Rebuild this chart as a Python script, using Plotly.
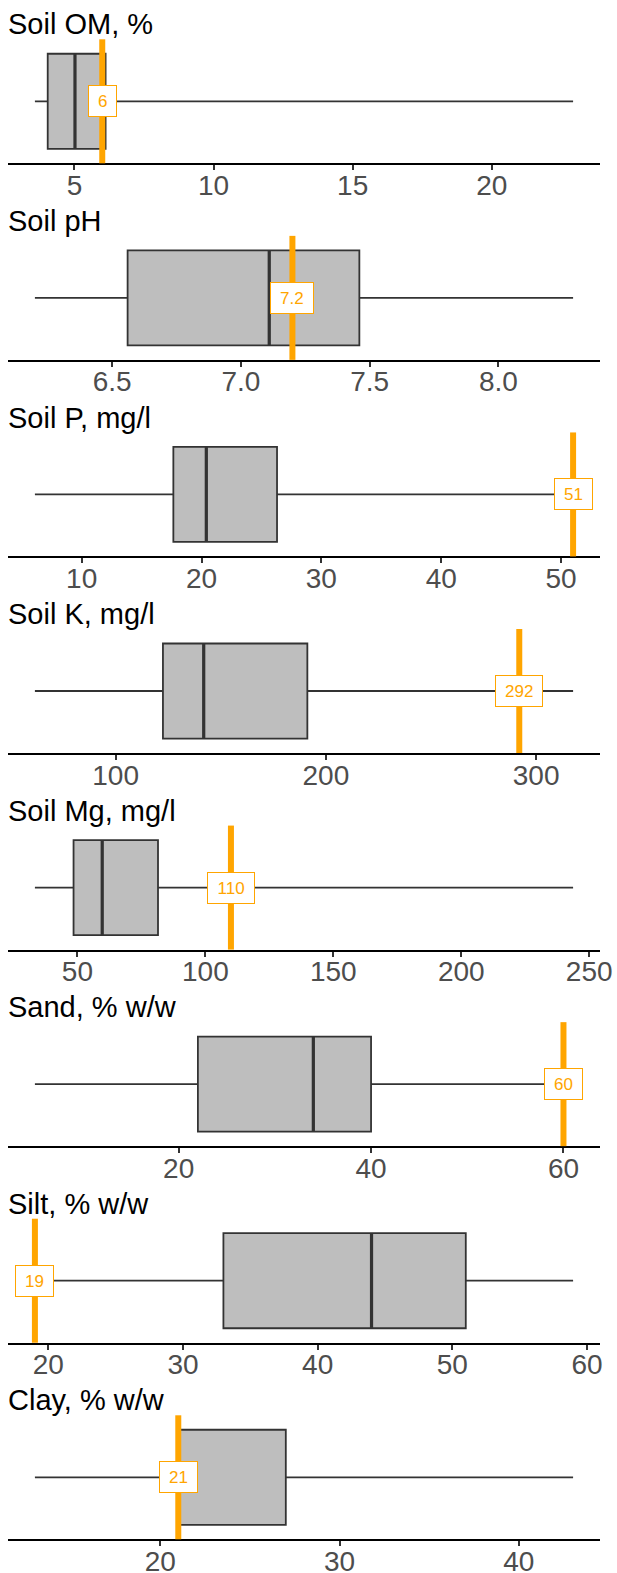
import plotly.graph_objects as go
from plotly.subplots import make_subplots

# ---- data ----
titles = ["Soil OM, %", "Soil pH", "Soil P, mg/l", "Soil K, mg/l",
          "Soil Mg, mg/l", "Sand, % w/w", "Silt, % w/w", "Clay, % w/w"]
whisker_lo = [3.58, 6.20, 6.1, 61.6, 33.4, 5.06, 19.5, 13.0]
q1_vals = [4.04, 6.56, 17.65, 122.5, 48.5, 22.0, 33.0, 21.0]
medians = [5.02, 7.11, 20.4, 141.9, 59.7, 34.0, 44.0, 21.05]
q3_vals = [6.12, 7.46, 26.3, 191.2, 81.5, 40.0, 51.0, 27.0]
whisker_hi = [22.92, 8.29, 50.5, 317.6, 243.7, 61.0, 58.97, 43.03]
site_vals = [6.0, 7.2, 51, 292, 110, 60, 19, 21]
site_labels = ["6", "7.2", "51", "292", "110", "60", "19", "21"]
tick_steps = [5, 0.5, 10, 100, 50, 20, 10, 10]
tick_formats = ["d", ".1f", "d", "d", "d", "d", "d", "d"]

# ---- layout constants (page pixels) ----
W, H = 617, 1573
PERIOD = 196.57
TOP0, BOT0 = 39.3, 163.3
TITLE_C0 = 24.5
BOX_W = 0.92
FONT = "Liberation Sans, Arial, sans-serif"
LABEL_FS = 17


def text_w(s, fs):
    return sum((0.278 if ch == "." else 0.556) * fs for ch in s)


n = len(titles)
fig = make_subplots(rows=n, cols=1)

for i in range(n):
    r = i + 1
    fig.add_trace(go.Box(
        q1=[q1_vals[i]], median=[medians[i]], q3=[q3_vals[i]],
        lowerfence=[whisker_lo[i]], upperfence=[whisker_hi[i]],
        y=[0], orientation="h", width=BOX_W,
        fillcolor="#BEBEBE", line=dict(color="#333333", width=1.8),
        whiskerwidth=0, boxpoints=False, hoverinfo="skip", showlegend=False,
    ), row=r, col=1)
    fig.add_trace(go.Scatter(
        x=[medians[i], medians[i]], y=[-BOX_W / 2, BOX_W / 2], mode="lines",
        line=dict(color="#333333", width=3.2), hoverinfo="skip", showlegend=False,
    ), row=r, col=1)

    lo = min(whisker_lo[i], site_vals[i])
    hi = max(whisker_hi[i], site_vals[i])
    pad = 0.05 * (hi - lo)
    top_px = TOP0 + i * PERIOD
    bot_px = BOT0 + i * PERIOD
    ax = "xaxis" if i == 0 else f"xaxis{r}"
    ay = "yaxis" if i == 0 else f"yaxis{r}"
    fig.layout[ax].update(
        range=[lo - pad, hi + pad], dtick=tick_steps[i], tick0=0,
        tickformat=tick_formats[i], showgrid=False, zeroline=False,
        showline=True, linecolor="black", linewidth=2,
        ticks="outside", ticklen=5, tickwidth=1.5, tickcolor="#333333",
        tickfont=dict(family=FONT, size=28, color="#4D4D4D"),
        ticklabelstandoff=-9, automargin=False,
        fixedrange=True,
    )
    fig.layout[ay].update(
        domain=[1 - bot_px / H, 1 - top_px / H], range=[-0.6, 0.6],
        visible=False, automargin=False, fixedrange=True,
    )
    xref = "x" if i == 0 else f"x{r}"
    yref = "y" if i == 0 else f"y{r}"
    fig.add_shape(type="line", xref=xref, yref=f"{yref} domain",
                  x0=site_vals[i], x1=site_vals[i], y0=0, y1=1,
                  line=dict(color="#FFA500", width=6), layer="above")
    fig.add_annotation(
        x=site_vals[i], y=0, xref=xref, yref=yref, text=site_labels[i],
        showarrow=False, font=dict(family=FONT, size=LABEL_FS, color="#FFA500"),
        bgcolor="white", bordercolor="#FFA500", borderwidth=1, borderpad=2,
        width=text_w(site_labels[i], LABEL_FS) + 14, height=26,
        xanchor="center", yanchor="middle",
    )
    fig.add_annotation(
        x=0, y=1 - (TITLE_C0 + i * PERIOD) / H, xref="paper", yref="paper",
        text=titles[i], showarrow=False, xanchor="left", yanchor="middle",
        font=dict(family=FONT, size=29, color="black"), xshift=-2,
    )

fig.update_layout(
    width=W, height=H, margin=dict(l=8, r=17, t=0, b=0, autoexpand=False),
    paper_bgcolor="white", plot_bgcolor="white", showlegend=False,
)

fig.write_html("out.html", config={"displayModeBar": False},
               post_script="document.body.style.margin='0';")
